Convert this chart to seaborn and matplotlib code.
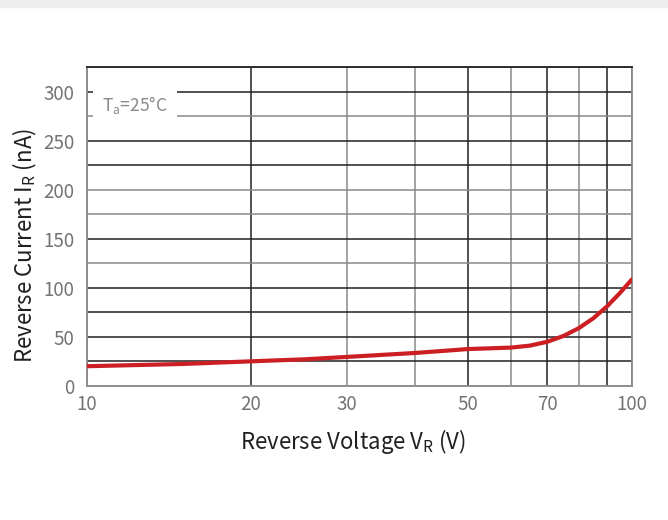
import numpy as np
import pandas as pd
import seaborn as sns
import matplotlib.pyplot as plt
from matplotlib.patches import Rectangle

sns.set_theme(style="white")
plt.rcParams['font.family'] = ['Noto Sans CJK SC', 'DejaVu Sans']

# values
voltage = [10, 15, 20, 25, 30, 40, 50, 60, 65, 70, 75, 80, 85, 90, 95, 100]
current = [20, 22.3, 25, 27, 29.5, 33.5, 37.5, 39, 41, 45, 51, 59, 69, 81, 94.5, 108.5]

x_ticks = [10, 20, 30, 40, 50, 60, 70, 80, 90, 100]
x_labels = ["10", "20", "30", "", "50", "", "70", "", "", "100"]
y_ticks = list(range(0, 326, 25))
y_labels = [str(v) if v % 50 == 0 else "" for v in y_ticks]

df = pd.DataFrame({"voltage": voltage, "current": current})

dark = "#231f20"
grey = "#8c8888"

fig = plt.figure(figsize=(6.68, 5.2), dpi=100)
ax = fig.add_axes([0.130, 0.258, 0.816, 0.613])

sns.lineplot(data=df, x="voltage", y="current", ax=ax, color="#cc1f24",
             linewidth=3.0, zorder=5, solid_joinstyle="round")

ax.set_xscale("log")
ax.set_xlim(10, 100)
ax.set_ylim(0, 325)
ax.set_xticks(x_ticks)
ax.set_xticklabels(x_labels)
ax.minorticks_off()
ax.set_yticks(y_ticks)
ax.set_yticklabels(y_labels)
ax.tick_params(length=0, labelsize=13.5, labelcolor="#737373")
ax.tick_params(axis="x", pad=6)
ax.tick_params(axis="y", pad=9)
for lbl in ax.get_xticklabels() + ax.get_yticklabels():
    lbl.set_fontweight("light")

ax.grid(True, linewidth=1.1)
x_dark = [20, 50, 70, 90]
for v, gl in zip(x_ticks, ax.get_xgridlines()):
    gl.set_color(dark if v in x_dark else grey)
y_dark = [25, 50, 75, 100, 150, 225, 250, 300]
for v, gl in zip(y_ticks, ax.get_ygridlines()):
    gl.set_color(dark if v in y_dark else grey)

for side, sp in ax.spines.items():
    sp.set_visible(True)
    sp.set_linewidth(1.3)
    sp.set_color(dark if side == "top" else grey)

ax.set_xlabel(r"Reverse Voltage V$_\mathregular{R}$ (V)", fontsize=16,
              color=dark)
ax.set_ylabel(r"Reverse Current I$_\mathregular{R}$ (nA)", fontsize=16,
              color=dark)
ax.xaxis.set_label_coords(0.488, -0.13)
ax.yaxis.set_label_coords(-0.087, 0.44)

# legend-like note with white background over the grid
ax.text(0.028, 0.882, r"T$_\mathregular{a}$=25°C", transform=ax.transAxes,
        fontsize=12.5, color="#8a8a8a", fontweight="light", va="center",
        ha="left", zorder=6,
        bbox=dict(boxstyle="square,pad=0.55", fc="white", ec="none"))

fig.patches.append(Rectangle((0, 0.9875), 1, 0.0125, transform=fig.transFigure,
                             color="#eeeeee", zorder=0))

fig.savefig("out.png", dpi=100)
